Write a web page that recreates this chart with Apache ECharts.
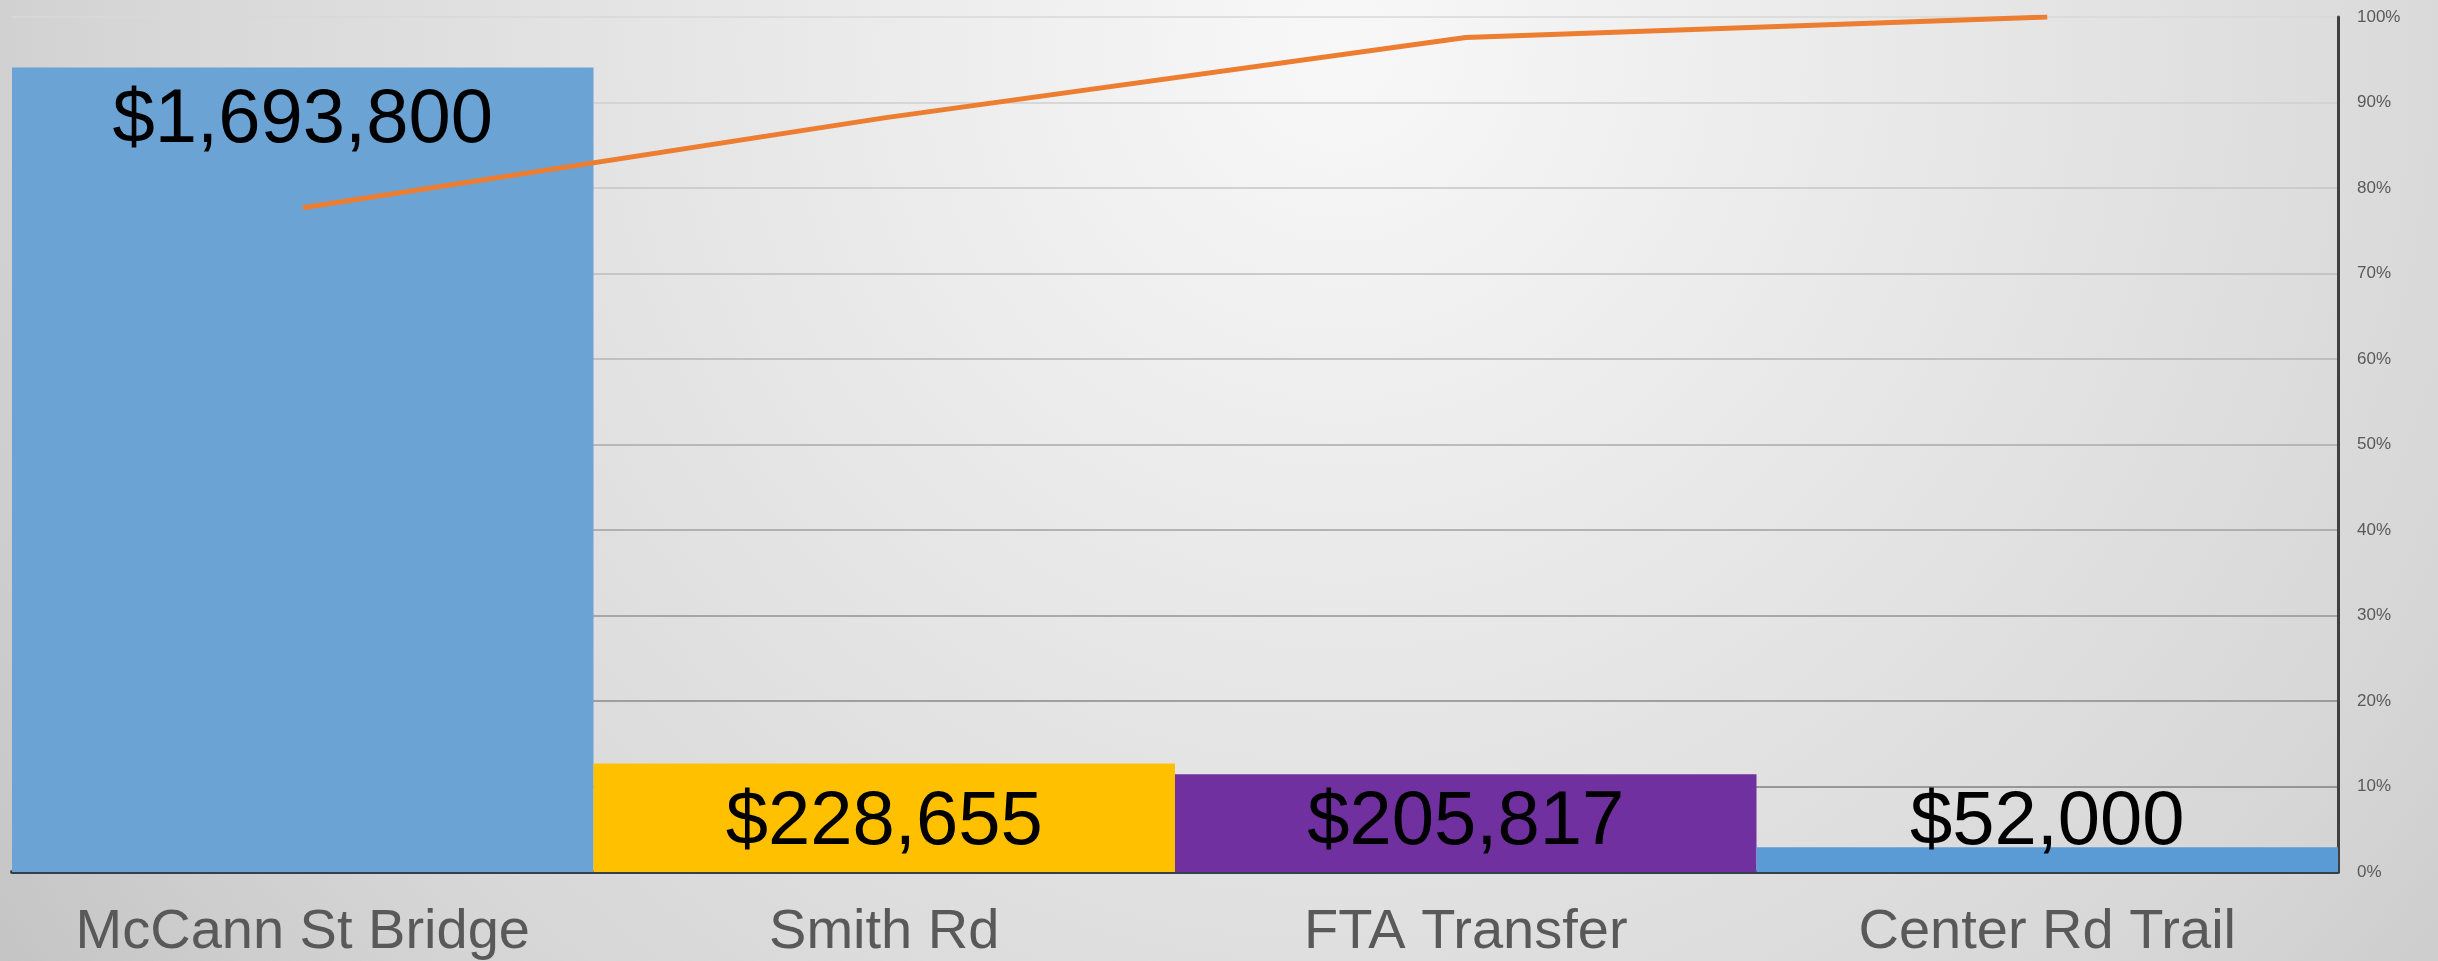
<!DOCTYPE html>
<html>
<head>
<meta charset="utf-8">
<script src="https://cdn.jsdelivr.net/npm/echarts@6/dist/echarts.min.js"></script>
<style>
  html, body { margin: 0; padding: 0; }
  #chart { width: 2438px; height: 961px; }
</style>
</head>
<body>
<div id="chart"></div>
<script>
// project names along the x axis
var projects = ['McCann St Bridge', 'Smith Rd', 'FTA Transfer', 'Center Rd Trail'];
// dollar amounts per project
var amounts = [1693800, 228655, 205817, 52000];
// bar fill per project
var barColors = ['#6ca3d5', '#ffc000', '#7030a0', '#5b9bd5'];
// cumulative share (%)
var cumulative = [77.7, 88.2, 97.6, 100];
// right axis ticks
var pctMin = 0, pctMax = 100, pctStep = 10;

var chart = echarts.init(document.getElementById('chart'));

function money(v) {
  return '$' + v.toLocaleString('en-US');
}

var barData = amounts.map(function (v, i) {
  return {
    value: v,
    itemStyle: { color: barColors[i] },
    label: i === 0
      ? { position: 'insideTop', distance: 16 }
      : { position: 'insideBottom', distance: 11 }
  };
});

var option = {
  backgroundColor: {
    type: 'radial',
    x: 0.55, y: 0.05, r: 1.7,
    colorStops: [
      { offset: 0, color: '#f8f8f8' },
      { offset: 0.4, color: '#e6e6e6' },
      { offset: 0.75, color: '#d6d6d6' },
      { offset: 1, color: '#c4c4c4' }
    ]
  },
  animation: false,
  grid: { left: 12, right: 100, top: 17, bottom: 89 },
  xAxis: {
    type: 'category',
    data: projects,
    axisTick: { show: false },
    axisLine: { show: true, lineStyle: { color: '#34404c', width: 4 } },
    axisLabel: {
      interval: 0,
      color: '#595959',
      fontSize: 56,
      margin: 33,
      fontFamily: 'Liberation Sans'
    }
  },
  yAxis: [
    {
      type: 'value',
      min: 0,
      max: 1800000,
      show: false,
      splitLine: { show: false }
    },
    {
      type: 'value',
      position: 'right',
      min: pctMin,
      max: pctMax,
      interval: pctStep,
      axisLine: { show: true, lineStyle: { color: '#404040', width: 3 } },
      axisTick: { show: false },
      axisLabel: {
        formatter: '{value}%',
        color: '#595959',
        fontSize: 17,
        margin: 19,
        fontFamily: 'Liberation Sans'
      },
      splitLine: {
        show: true,
        lineStyle: {
          width: 1.5,
          color: ['#7a7a7a', '#808080', '#888888', '#949494', '#a0a0a0', '#aaaaaa',
                  '#b4b4b4', '#bdbdbd', '#c6c6c6', '#cfcfcf', '#d8d8d8']
        }
      }
    }
  ],
  series: [
    {
      type: 'bar',
      yAxisIndex: 0,
      barCategoryGap: '0%',
      data: barData,
      z: 2,
      label: {
        show: true,
        color: '#000000',
        fontSize: 76,
        fontFamily: 'Liberation Sans',
        formatter: function (p) { return money(p.value); }
      }
    },
    {
      type: 'line',
      yAxisIndex: 1,
      data: cumulative,
      showSymbol: false,
      symbol: 'none',
      z: 3,
      lineStyle: { color: '#ed7d31', width: 5 }
    }
  ]
};

chart.setOption(option);
</script>
</body>
</html>
